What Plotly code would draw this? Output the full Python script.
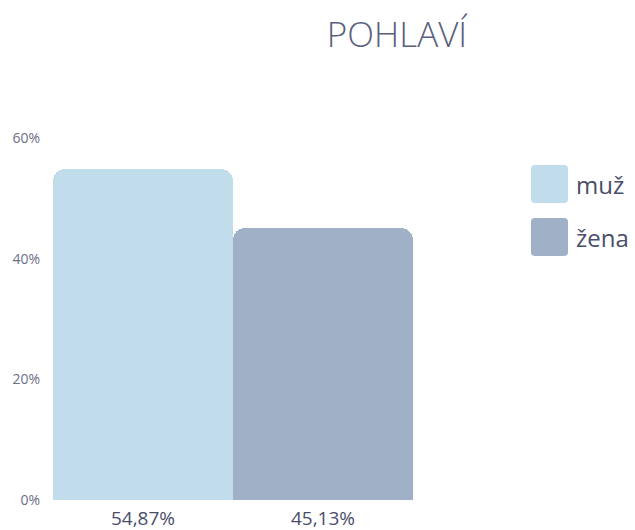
import plotly.graph_objects as go

categories = ["muž", "žena"]
values = [54.87, 45.13]
tick_labels = ["54,87%", "45,13%"]
colors = ["#c1dcea", "#a0b0c6"]
y_ticks = [0, 20, 40, 60]
y_tick_labels = ["0%", "20%", "40%", "60%"]

W, H = 635, 530
L, R, T, B = 53, 413, 138, 500

fig = go.Figure()
for name, v, lab, c in zip(categories, values, tick_labels, colors):
    fig.add_trace(go.Bar(x=[lab], y=[v], name=name, marker=dict(color=c, line=dict(width=0)),
                         showlegend=False, hoverinfo="skip"))

def px2paper(x, y):
    return (x - L) / (R - L), (B - y) / (B - T)

def rounded_rect(x0, y0, x1, y1, r):
    def p(x, y):
        a, b = px2paper(x, y)
        return f"{a:.5f},{b:.5f}"
    path = (f"M {p(x0 + r, y0)} L {p(x1 - r, y0)} Q {p(x1, y0)} {p(x1, y0 + r)} "
            f"L {p(x1, y1 - r)} Q {p(x1, y1)} {p(x1 - r, y1)} L {p(x0 + r, y1)} "
            f"Q {p(x0, y1)} {p(x0, y1 - r)} L {p(x0, y0 + r)} Q {p(x0, y0)} {p(x0 + r, y0)} Z")
    return path

shapes = []
annotations = []
legend_y = [165, 218]
for i, (name, c) in enumerate(zip(categories, colors)):
    y0 = legend_y[i]
    shapes.append(dict(type="path", xref="paper", yref="paper",
                       path=rounded_rect(531, y0, 568, y0 + 38, 4),
                       fillcolor=c, line=dict(width=0)))
    ax, ay = px2paper(574, y0 + 19)
    annotations.append(dict(x=ax, y=ay, xref="paper", yref="paper", text=name, showarrow=False,
                            xanchor="left", yanchor="middle",
                            font=dict(size=24, color="#4a4e6a", family="Open Sans")))

fig.update_layout(
    width=W, height=H,
    margin=dict(l=L, r=W - R, t=T, b=H - B, autoexpand=False),
    paper_bgcolor="white", plot_bgcolor="white",
    barmode="overlay", bargap=0, barcornerradius=12,
    title=dict(text="POHLAVÍ", x=397 / W, xanchor="center", y=1 - 35 / H, yanchor="middle",
               font=dict(size=35, color="#5a5f7d", family="Open Sans", weight=300)),
    xaxis=dict(showgrid=False, showline=False, zeroline=False, ticks="",
               ticklabelstandoff=5, automargin=False,
               tickfont=dict(size=19, color="#4a4e6a", family="Open Sans")),
    yaxis=dict(range=[0, 60], tickvals=y_ticks, ticktext=y_tick_labels, showgrid=True,
               gridcolor="#eeeeee", gridwidth=1, zeroline=False, showline=False, ticks="",
               ticklabelstandoff=12, automargin=False,
               tickfont=dict(size=14, color="#6b6e85", family="Open Sans")),
    shapes=shapes, annotations=annotations, showlegend=False,
)

fig.write_html("out.html", config={"displayModeBar": False},
               post_script="document.body.style.margin='0';")
